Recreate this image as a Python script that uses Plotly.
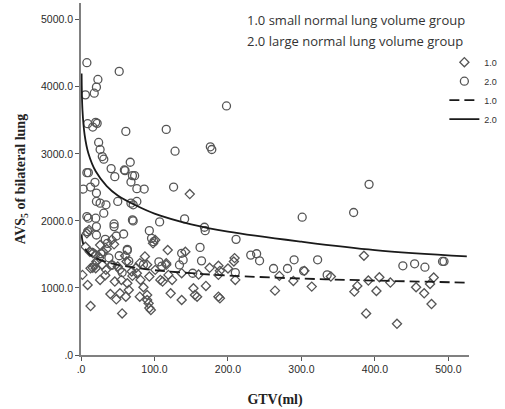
import plotly.graph_objects as go

# Group 1.0 (small normal lung volume) - diamonds
g1_x = [2, 9, 13, 26, 40, 48, 56, 53, 46, 61, 65, 63, 80, 85, 90, 92, 93, 95, 90, 81,
        76, 69, 62, 53, 42, 34, 29, 20, 13, 16, 21, 25, 30, 26, 16, 20, 12, 6, 8, 11,
        80, 87, 90, 93, 35, 42, 55, 70, 75, 33, 18, 50, 60, 45, 101, 98, 101,
        108, 111, 124, 119, 118, 116, 116, 137, 142, 153, 155, 158, 122, 137, 187, 187, 189,
        187, 189, 170, 208, 209, 210, 148, 200, 160, 175,
        264, 289, 304, 314, 340, 372, 376, 388, 391, 402, 406, 421, 430, 456, 467, 475,
        477, 480, 385, 270]
g1_y = [1195, 1045, 730, 1120, 910, 830, 620, 920, 1095, 870, 970, 1070, 870, 1010, 820, 770, 700, 670, 895, 1120,
        1220, 1245, 1395, 1270, 1345, 1270, 1345, 1295, 1295, 1300, 1395, 1445, 1540, 1640, 1520, 1495, 1540, 1615, 1815, 1865,
        1370, 1470, 1345, 1170, 1580, 1720, 1120, 1180, 1300, 1190, 1340, 1320, 1480, 1650, 1270, 1665, 1715,
        1120, 1095, 1120, 1195, 1565, 1370, 1345, 1220, 1540, 995, 895, 870, 920, 820, 1330, 1195, 1255,
        870, 845, 1030, 1395, 1445, 1120, 2400, 1290, 1200, 1300,
        960, 1105, 1255, 1020, 1170, 945, 1030, 620, 1110, 955, 1160, 1080, 465, 1010, 920, 1060,
        760, 1155, 1480, 1180]

# Group 2.0 (large normal lung volume) - circles
g2_x = [8, 52, 23, 21, 18, 6, 9, 16, 20, 22, 61, 116, 198, 128, 176, 178, 24, 26, 29, 31,
        8, 10, 41, 46, 67, 59, 60, 70, 73, 68, 76, 86, 126, 392, 3, 13, 19, 21, 21, 26,
        34, 50, 68, 71, 76, 141, 168, 169, 301, 371, 211, 107, 70, 71, 45, 45, 31, 8, 10, 20,
        21, 9, 21, 48, 58, 33, 36, 93, 96, 99, 162, 231, 239, 243, 63, 63, 52, 262, 281, 438,
        454, 468, 492, 494, 335, 303, 322, 290, 134, 139, 137, 152, 164, 210, 106, 110, 38, 42,
        15, 27, 65, 85, 56]
g2_y = [4360, 4230, 4110, 3995, 3905, 3880, 3450, 3400, 3470, 3455, 3335, 3365, 3715, 3040, 3105, 3065, 3170, 3065, 2960, 2920,
        2720, 2720, 2780, 2660, 2875, 2760, 2750, 2675, 2675, 2580, 2480, 2475, 2505, 2545, 2475, 2505, 2575, 2415, 2290, 2265,
        2240, 2290, 2265, 2240, 2290, 2030, 1905, 1855, 2055, 2125, 1725, 1985, 2015, 2000, 1955, 1915, 2115, 2065, 2040, 2040,
        1915, 1840, 1790, 1775, 1805, 1725, 1665, 1855, 1740, 1690, 1605, 1490, 1510, 1405, 1575, 1560, 1480, 1290, 1290, 1330,
        1360, 1310, 1395, 1395, 1195, 1255, 1420, 1420, 1343, 1418, 1517, 1219, 1404, 1229, 1390, 1325, 1450, 1340,
        1530, 1510, 1400, 1350, 1230]

# Fitted curves
fit_x = [0.8, 2, 5, 10, 20, 35, 50, 75, 100, 150, 200, 300, 400, 525]
fit1_y = [1800, 1700, 1600, 1520, 1445, 1385, 1345, 1300, 1265, 1220, 1185, 1140, 1110, 1080]
fit2_y = [4200, 3650, 3280, 3010, 2740, 2520, 2380, 2230, 2110, 1950, 1840, 1690, 1565, 1470]

x_ticks = [0, 100, 200, 300, 400, 500]
x_ticktext = [".0", "100.0", "200.0", "300.0", "400.0", "500.0"]
y_ticks = [0, 1000, 2000, 3000, 4000, 5000]
y_ticktext = [".0", "1000.0", "2000.0", "3000.0", "4000.0", "5000.0"]

pt_color = "#555555"
fig = go.Figure()
fig.add_trace(go.Scatter(x=g1_x, y=g1_y, mode="markers", name="1.0",
                         marker=dict(symbol="diamond-open", size=7, color=pt_color,
                                     line=dict(width=1.3, color=pt_color))))
fig.add_trace(go.Scatter(x=g2_x, y=g2_y, mode="markers", name="2.0",
                         marker=dict(symbol="circle-open", size=8, color=pt_color,
                                     line=dict(width=1.3, color=pt_color))))
fig.add_trace(go.Scatter(x=fit_x, y=fit1_y, mode="lines", name="1.0", line_shape="spline",
                         line=dict(color="#1a1a1a", width=1.8, dash="10px,5px")))
fig.add_trace(go.Scatter(x=fit_x, y=fit2_y, mode="lines", name="2.0", line_shape="spline",
                         line=dict(color="#1a1a1a", width=1.8)))

axis_common = dict(showline=True, linecolor="#808080", linewidth=1.5, ticks="outside",
                   ticklen=4, tickwidth=1.2, tickcolor="#555555", showgrid=False,
                   zeroline=False, tickfont=dict(family="Liberation Sans", size=10.5, color="#2a2a2a"))

fig.update_layout(
    width=505, height=409,
    margin=dict(l=81, r=36, t=3, b=54),
    paper_bgcolor="white", plot_bgcolor="white",
    xaxis=dict(range=[0, 528], tickvals=x_ticks, ticktext=x_ticktext,
               title=dict(text="<b>GTV(ml)</b>", standoff=20,
                          font=dict(family="Liberation Serif", size=14, color="#222222")),
               **axis_common),
    yaxis=dict(range=[0, 5250], tickvals=y_ticks, ticktext=y_ticktext,
               title=dict(text="<b>AVS<sub>5</sub> of bilateral lung</b>", standoff=12,
                          font=dict(family="Liberation Serif", size=14, color="#222222")),
               **axis_common),
    legend=dict(x=1.086, y=0.873, xanchor="right", yanchor="top", itemwidth=30,
                font=dict(family="Liberation Sans", size=9, color="#333333"),
                bgcolor="rgba(0,0,0,0)", tracegroupgap=0),
    annotations=[
        dict(text="1.0 small normal lung volume group", xref="paper", yref="paper",
             x=0.422, y=0.952, xanchor="left", yanchor="middle", showarrow=False,
             font=dict(family="Open Sans", size=13, color="#333333")),
        dict(text="2.0 large normal lung volume group", xref="paper", yref="paper",
             x=0.422, y=0.892, xanchor="left", yanchor="middle", showarrow=False,
             font=dict(family="Open Sans", size=13, color="#333333")),
    ],
)

fig.write_html("out.html")
